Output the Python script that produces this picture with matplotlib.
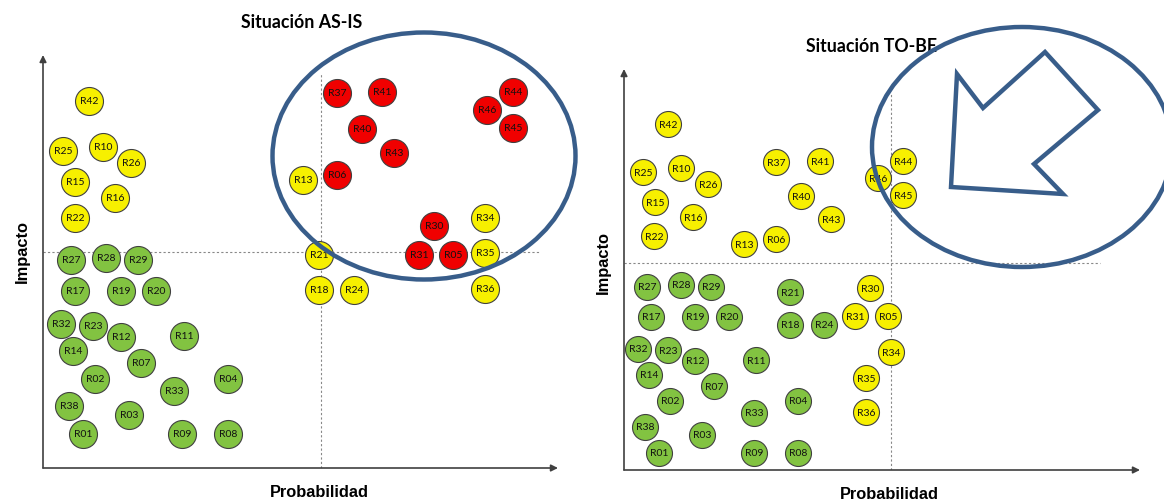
import matplotlib.pyplot as plt
from matplotlib.patches import Ellipse, Polygon

# Situación AS-IS (coordenadas en unidades del eje: probabilidad, impacto)
asis_amar = ["R42", "R25", "R10", "R26", "R15", "R16", "R22", "R13", "R21", "R18", "R24", "R34", "R35", "R36"]
asis_amar_x = [46, 20, 60, 88, 32, 72, 32, 260, 276, 276, 311, 442, 442, 442]
asis_amar_y = [367, 317, 321, 305, 286, 270, 250, 288, 213, 178, 178, 250, 215, 179]

asis_rojo = ["R37", "R41", "R40", "R43", "R06", "R44", "R46", "R45", "R30", "R31", "R05"]
asis_rojo_x = [294, 339, 319, 351, 294, 470, 444, 470, 391, 376, 410]
asis_rojo_y = [375, 376, 339, 315, 293, 376, 358, 340, 242, 213, 213]

asis_verde = ["R27", "R28", "R29", "R17", "R19", "R20", "R32", "R23", "R12", "R11",
              "R14", "R07", "R02", "R04", "R33", "R38", "R03", "R01", "R09", "R08"]
asis_verde_x = [28, 63, 95, 32, 78, 113, 18, 50, 78, 141, 30, 98, 52, 185, 131, 26, 86, 40, 139, 185]
asis_verde_y = [208, 210, 208, 177, 177, 177, 144, 142, 131, 132, 117, 105, 89, 89, 77, 62, 53, 34, 34, 34]

# Situación TO-BE
tobe_amar = ["R42", "R25", "R10", "R26", "R15", "R16", "R22", "R13", "R06", "R37", "R41",
             "R40", "R43", "R46", "R44", "R45", "R30", "R31", "R05", "R34", "R35", "R36"]
tobe_amar_x = [44, 19, 57, 84, 31, 69, 30, 120, 152, 152, 196, 177, 207, 254, 279, 279, 246, 231, 264, 267, 242, 242]
tobe_amar_y = [346, 298, 302, 286, 268, 253, 234, 226, 231, 308, 309, 274, 251, 292, 309, 275, 182, 154, 154, 118, 92, 58]

tobe_verde = ["R27", "R28", "R29", "R21", "R17", "R19", "R20", "R18", "R24", "R32", "R23", "R12",
              "R11", "R14", "R07", "R02", "R04", "R33", "R38", "R03", "R01", "R09", "R08"]
tobe_verde_x = [23, 57, 87, 166, 27, 71, 105, 166, 200, 14, 44, 71, 132, 25, 90, 46, 174, 130, 21, 78, 35, 130, 174]
tobe_verde_y = [183, 185, 183, 178, 153, 153, 153, 145, 145, 121, 120, 109, 110, 95, 84, 69, 69, 57, 43, 35, 17, 17, 17]

# cuadrantes: (x vertical, y horizontal, alto de la vertical, largo de la horizontal)
asis_lim = (278, 216, 394, 497)
tobe_lim = (267, 207, 376, 476)
asis_elipse = (381, 312, 303, 247)
tobe_elipse = (398, 323, 300, 240)
flecha_x = [421, 474, 410, 439, 327, 333, 359]
flecha_y = [418, 360, 306, 276, 283, 396, 362]

AMARILLO = "#f7f000"
ROJO = "#f00000"
VERDE = "#82c341"
AZUL = "#385d8a"

fig = plt.figure(figsize=(11.64, 5.02), dpi=100)
W, H = 1164, 502


def panel(rect, xmax, ymax, grupos, lim, size, titulo, tpos, elipse):
    ax = fig.add_axes(rect)
    ax.set_xlim(0, xmax)
    ax.set_ylim(0, ymax)
    ax.axis("off")
    # ejes con flecha
    ax.annotate("", xy=(0, ymax), xytext=(0, 0),
                arrowprops=dict(arrowstyle="-|>", color="#404040", lw=1.2, shrinkA=0, shrinkB=0))
    ax.annotate("", xy=(xmax, 0), xytext=(0, 0),
                arrowprops=dict(arrowstyle="-|>", color="#404040", lw=1.2, shrinkA=0, shrinkB=0))
    # cuadrantes
    ax.plot([lim[0], lim[0]], [0, lim[2]], ls=(0, (2, 2)), color="#888888", lw=0.8)
    ax.plot([0, lim[3]], [lim[1], lim[1]], ls=(0, (2, 2)), color="#888888", lw=0.8)
    for nombres, xs, ys, col in grupos:
        ax.scatter(xs, ys, s=size, color=col, edgecolor="#404040", linewidth=0.8, zorder=3)
        for n, x, y in zip(nombres, xs, ys):
            ax.text(x, y, n, ha="center", va="center", fontsize=7.5, family="Lato",
                    color="#111111", zorder=4)
    ex, ey, ew, eh = elipse
    ax.add_patch(Ellipse((ex, ey), ew, eh, fill=False, edgecolor=AZUL, lw=3.2,
                         clip_on=False, zorder=5))
    ax.text(-21, lim[1] + 1, "Impacto", rotation=90, ha="center", va="center",
            fontsize=11.8, fontweight="bold", family="Liberation Sans")
    ax.text(lim[0] - 2, -24, "Probabilidad", ha="center", va="center",
            fontsize=11.8, fontweight="bold", family="Liberation Sans")
    ax.text(tpos[0], tpos[1], titulo, ha="center", va="center",
            fontsize=12.8, fontweight="bold", family="Lato", clip_on=False)
    return ax


ax1 = panel([43 / W, (502 - 469) / H, 515 / W, 413 / H], 515, 413,
            [(asis_amar, asis_amar_x, asis_amar_y, AMARILLO),
             (asis_rojo, asis_rojo_x, asis_rojo_y, ROJO),
             (asis_verde, asis_verde_x, asis_verde_y, VERDE)],
            asis_lim, 406, "Situación AS-IS", (259, 446), asis_elipse)

ax2 = panel([624 / W, (502 - 471) / H, 516 / W, 401 / H], 516, 401,
            [(tobe_amar, tobe_amar_x, tobe_amar_y, AMARILLO),
             (tobe_verde, tobe_verde_x, tobe_verde_y, VERDE)],
            tobe_lim, 350, "Situación TO-BE", (247, 425), tobe_elipse)
ax2.add_patch(Polygon(list(zip(flecha_x, flecha_y)), closed=True, fill=False,
                      edgecolor=AZUL, lw=3.2, joinstyle="miter", clip_on=False, zorder=5))

plt.savefig("out.png", dpi=100)
